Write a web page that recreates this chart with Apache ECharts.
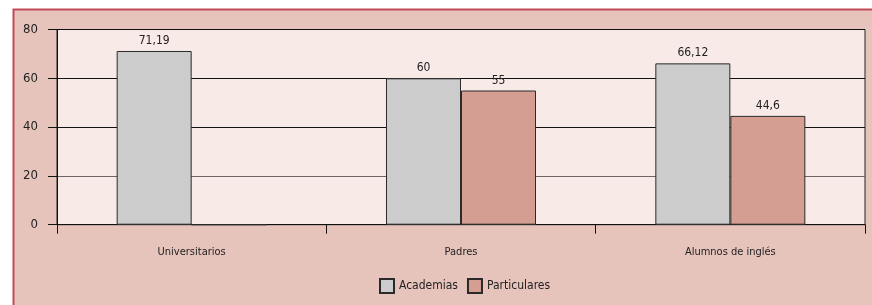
<!DOCTYPE html>
<html>
<head>
<meta charset="utf-8">
<script src="https://cdn.jsdelivr.net/npm/echarts@6/dist/echarts.min.js"></script>
<style>
  html, body { margin: 0; padding: 0; background: #fff; }
  #chart { width: 872px; height: 305px; }
</style>
</head>
<body>
<div id="chart"></div>
<script>
var categories = ['Universitarios', 'Padres', 'Alumnos de inglés'];
var academias = [71.19, 60, 66.12];
var particulares = [0, 55, 44.6];
var seriesNames = ['Academias', 'Particulares'];

var font = '"DejaVu Sans Condensed", "Liberation Sans Narrow", sans-serif';

// comma as decimal mark, like the original
var fmt = function(p) {
    if (p.value === 0) return '';
    return String(p.value).replace('.', ',');
};

var barStyle = function(color) {
    return { color: color, borderColor: '#2a2a2a', borderWidth: 1 };
};

var labelStyle = {
    show: true,
    position: 'top',
    distance: 4,
    color: '#222',
    fontFamily: font,
    fontSize: 12,
    formatter: fmt
};

var myChart = echarts.init(document.getElementById('chart'));

var option = {
    animation: false,
    backgroundColor: '#fff',
    graphic: [{
        type: 'rect',
        z: -10,
        shape: { x: 13.5, y: 9.5, width: 900, height: 400 },
        style: { fill: '#E6C4BC', stroke: '#C24B57', lineWidth: 2 }
    }],
    grid: {
        left: 57, right: 7, top: 29.5, bottom: 80.3,
        show: true,
        backgroundColor: '#F8EAE7',
        borderColor: '#222',
        borderWidth: 1
    },
    legend: {
        data: seriesNames,
        left: 374,
        top: 273,
        icon: 'rect',
        itemWidth: 14,
        itemHeight: 14,
        itemGap: 9,
        textStyle: { fontFamily: font, fontSize: 12, color: '#222' }
    },
    xAxis: {
        type: 'category',
        data: categories,
        axisLine: { show: true, lineStyle: { color: '#111', width: 1 } },
        axisTick: { show: true, length: 9, lineStyle: { color: '#111' } },
        axisLabel: { margin: 22, fontFamily: font, fontSize: 11, color: '#222' }
    },
    yAxis: {
        type: 'value',
        min: 0, max: 80, interval: 20,
        axisLine: { show: true, lineStyle: { color: '#111' } },
        axisTick: { show: true, length: 9, lineStyle: { color: '#111' } },
        axisLabel: { margin: 19, fontFamily: font, fontSize: 13, color: '#222' },
        splitLine: {
            show: true,
            lineStyle: { color: ['#111', '#6f6464', '#111', '#111', '#111'], width: 1 }
        }
    },
    series: [{
        name: seriesNames[0],
        type: 'bar',
        data: academias,
        barWidth: 75,
        barGap: '0%',
        itemStyle: barStyle('#CCCCCC'),
        label: labelStyle
    }, {
        name: seriesNames[1],
        type: 'bar',
        data: particulares,
        barWidth: 75,
        barGap: '0%',
        itemStyle: barStyle('#D49E92'),
        label: labelStyle
    }]
};

myChart.setOption(option);
</script>
</body>
</html>
